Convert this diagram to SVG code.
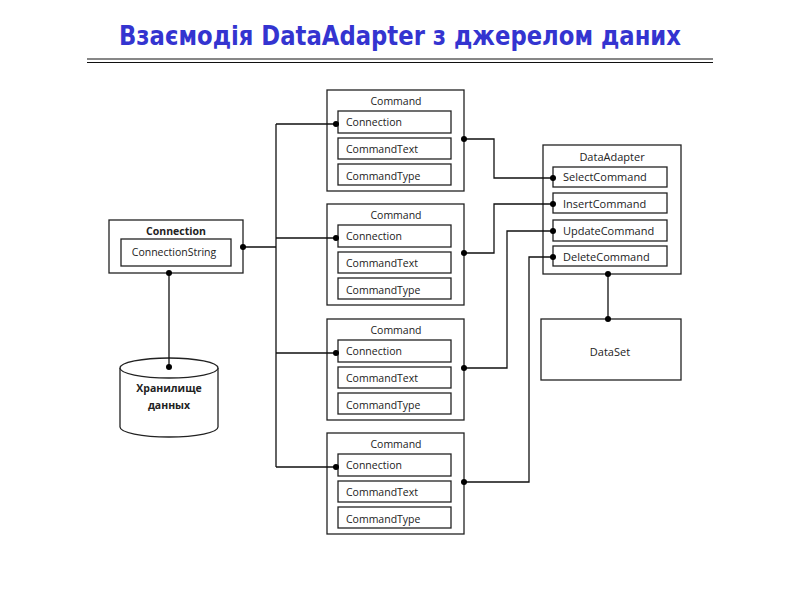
<svg xmlns="http://www.w3.org/2000/svg" width="800" height="600" viewBox="0 0 800 600">
<defs>
<style>
.box{fill:#fff;stroke:#222;stroke-width:1.3}
.t{font-family:"Open Sans","Noto Sans",sans-serif;font-size:10.5px;fill:#222}
.ta{font-family:"Open Sans","Noto Sans",sans-serif;font-size:11px;fill:#222}
.b{font-weight:bold}
.c{text-anchor:middle}
.w{stroke:#111;stroke-width:1.3;fill:none}
.dot{fill:#000}
</style>
<g id="cmdTpl">
<rect class="box" x="327" y="90" width="137" height="101"/>
<text class="t c" x="396" y="105">Command</text>
<rect class="box" x="338" y="111" width="113" height="22"/>
<text class="t" x="346" y="126">Connection</text>
<rect class="box" x="338" y="138" width="113" height="21"/>
<text class="t" x="346" y="153">CommandText</text>
<rect class="box" x="338" y="164" width="113" height="21"/>
<text class="t" x="346" y="180">CommandType</text>
</g>
</defs>
<rect width="800" height="600" fill="#fff"/>
<g id="title">
<text x="400" y="45" text-anchor="middle" font-family="'DejaVu Sans',sans-serif" font-weight="bold" font-size="26" fill="#3434d0" textLength="562" lengthAdjust="spacingAndGlyphs">Взаємодія DataAdapter з джерелом даних</text>
<line x1="87" y1="59" x2="713" y2="59" stroke="#111" stroke-width="1.2"/>
<line x1="87" y1="62.5" x2="713" y2="62.5" stroke="#111" stroke-width="1.2"/>
</g>
<g id="connection">
<rect class="box" x="109" y="220" width="134" height="53"/>
<text class="t b c" x="176" y="235">Connection</text>
<rect class="box" x="121" y="239" width="110" height="27"/>
<text class="t c" x="174" y="256">ConnectionString</text>
</g>
<g id="storage">
<path class="box" d="M120,368 V427 A49,10 0 0 0 218,427 V368"/>
<ellipse class="box" cx="169" cy="368" rx="49" ry="10"/>
<text class="t b c" x="169" y="392">Хранилище</text>
<text class="t b c" x="169" y="409">данных</text>
</g>
<g id="command1"><use href="#cmdTpl"/></g>
<g id="command2"><use href="#cmdTpl" y="114"/></g>
<g id="command3"><use href="#cmdTpl" y="229"/></g>
<g id="command4"><use href="#cmdTpl" y="343"/></g>
<g id="dataadapter">
<rect class="box" x="543" y="145" width="138" height="129"/>
<text class="ta c" x="612" y="161">DataAdapter</text>
<rect class="box" x="553" y="167" width="114" height="20"/>
<text class="ta" x="563" y="181">SelectCommand</text>
<rect class="box" x="553" y="193" width="114" height="20"/>
<text class="ta" x="563" y="208">InsertCommand</text>
<rect class="box" x="553" y="220" width="114" height="21"/>
<text class="ta" x="563" y="235">UpdateCommand</text>
<rect class="box" x="553" y="246" width="114" height="20"/>
<text class="ta" x="563" y="261">DeleteCommand</text>
</g>
<g id="dataset">
<rect class="box" x="541" y="319" width="140" height="61"/>
<text class="ta c" x="610" y="356">DataSet</text>
</g>
<g id="connectors">
<path class="w" d="M276,124 V467 M243,247 H276 M276,124 H336 M276,238 H336 M276,353 H336 M276,467 H336"/>
<path class="w" d="M464,139 H494 V178 H553 M464,253 H494 V204 H553 M464,368 H507 V231 H553 M464,482 H529 V257 H553"/>
<path class="w" d="M608,274 V319 M169,273 V367"/>
<g class="dot">
<circle cx="243" cy="247" r="3"/><circle cx="169" cy="273" r="3"/><circle cx="169" cy="367" r="3"/>
<circle cx="336" cy="124" r="3"/><circle cx="336" cy="238" r="3"/><circle cx="336" cy="353" r="3"/><circle cx="336" cy="467" r="3"/>
<circle cx="464" cy="139" r="3"/><circle cx="464" cy="253" r="3"/><circle cx="464" cy="368" r="3"/><circle cx="464" cy="482" r="3"/>
<circle cx="553" cy="178" r="3"/><circle cx="553" cy="204" r="3"/><circle cx="553" cy="231" r="3"/><circle cx="553" cy="257" r="3"/>
<circle cx="608" cy="274" r="3"/><circle cx="608" cy="319" r="3"/>
</g>
</g>
</svg>
